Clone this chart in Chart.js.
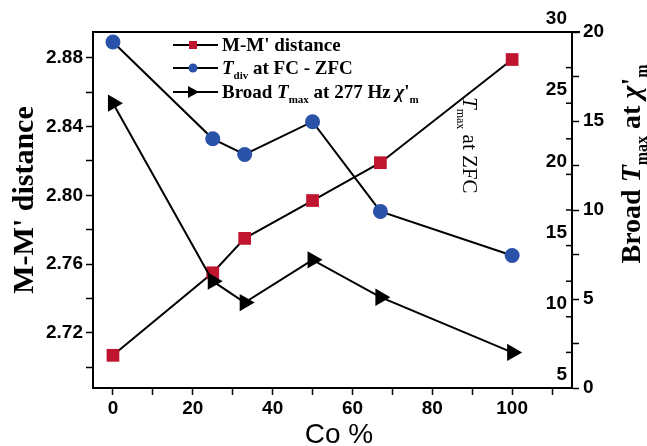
<!DOCTYPE html>
<html>
<head>
<meta charset="utf-8">
<script src="https://cdn.jsdelivr.net/npm/chart.js@4.4.1/dist/chart.umd.min.js"></script>
<style>
  body { margin: 0; background: #fff; }
</style>
</head>
<body>
<canvas id="coChart" width="647" height="446"></canvas>
<script>
// values
const coPercent = [0, 25, 33, 50, 67, 100];
const mmDistance = [2.707, 2.755, 2.775, 2.797, 2.819, 2.879];
const tDivZfc = [29.3, 22.5, 21.4, 23.7, 17.4, 14.3];
const broadTmax = [16.0, 6.0, 4.8, 7.2, 5.1, 2.0];

const xTicks = [0, 10, 20, 30, 40, 50, 60, 70, 80, 90, 100, 110];
const leftTicks = [2.70, 2.72, 2.74, 2.76, 2.78, 2.80, 2.82, 2.84, 2.86, 2.88];
const zfcTicks = [5, 7.5, 10, 12.5, 15, 17.5, 20, 22.5, 25, 27.5, 30];
const chiTicks = [0, 2.5, 5, 7.5, 10, 12.5, 15, 17.5, 20];

const RED = "#c0152f";
const BLUE = "#2a52a8";
const SANS = "'Liberation Sans', Arial, sans-serif";
const SERIF = "'Liberation Serif', 'Times New Roman', serif";

const tickFont = { family: SANS, size: 19, weight: "bold" };

function setTicks(list) {
    return (scale) => { scale.ticks = list.map(v => ({ value: v })); };
}

// draws a run of text pieces, each with its own font and vertical shift
function richWidth(ctx, segs) {
    let w = 0;
    segs.forEach(s => { ctx.font = s.font; w += ctx.measureText(s.text).width; });
    return w;
}
function drawRich(ctx, segs, x, y) {
    let cx = x;
    segs.forEach(s => {
        ctx.font = s.font;
        ctx.fillText(s.text, cx, y + (s.dy || 0));
        cx += ctx.measureText(s.text).width;
    });
}

const extras = {
    id: "extras",
    afterDraw(chart) {
        const ctx = chart.ctx;
        const area = chart.chartArea;
        const zfc = chart.scales.yZfc;
        ctx.save();
        ctx.fillStyle = "#000";
        ctx.strokeStyle = "#000";

        // top frame line
        ctx.lineWidth = 2;
        ctx.beginPath();
        ctx.moveTo(area.left - 1, area.top);
        ctx.lineTo(area.right + 8, area.top);
        ctx.stroke();

        // inner T_max at ZFC axis: ticks pointing inward, labels above the ticks
        ctx.lineWidth = 1.5;
        ctx.font = "bold 19px " + SANS;
        ctx.textAlign = "right";
        ctx.textBaseline = "middle";
        zfcTicks.forEach(v => {
            const y = zfc.getPixelForValue(v);
            ctx.beginPath();
            ctx.moveTo(area.right, y);
            ctx.lineTo(area.right - 6, y);
            ctx.stroke();
            if (v % 5 === 0) ctx.fillText(String(v), area.right - 5, y - 13);
        });

        ctx.textAlign = "left";
        ctx.textBaseline = "alphabetic";

        // left title
        const leftSegs = [{ text: "M-M' distance", font: "bold 30px " + SERIF }];
        ctx.save();
        ctx.translate(33, 200);
        ctx.rotate(-Math.PI / 2);
        drawRich(ctx, leftSegs, -richWidth(ctx, leftSegs) / 2, 0);
        ctx.restore();

        // right title
        const rightSegs = [
            { text: "Broad ", font: "bold 28px " + SERIF },
            { text: "T", font: "italic bold 28px " + SERIF },
            { text: "max", font: "bold 16px " + SERIF, dy: 7 },
            { text: " at ", font: "bold 28px " + SERIF },
            { text: "\u03c7", font: "italic bold 28px " + SERIF },
            { text: "'", font: "bold 28px " + SERIF },
            { text: "m", font: "bold 16px " + SERIF, dy: 7 }
        ];
        ctx.save();
        ctx.translate(640, 164);
        ctx.rotate(-Math.PI / 2);
        drawRich(ctx, rightSegs, -richWidth(ctx, rightSegs) / 2, 0);
        ctx.restore();

        // inner title for the ZFC axis
        const zfcSegs = [
            { text: "T", font: "italic 21px " + SERIF },
            { text: "max", font: "12px " + SERIF, dy: 6 },
            { text: " at ZFC", font: "21px " + SERIF }
        ];
        ctx.save();
        ctx.translate(463, 97);
        ctx.rotate(Math.PI / 2);
        drawRich(ctx, zfcSegs, 0, 0);
        ctx.restore();

        // x title
        ctx.textAlign = "center";
        ctx.font = "28px " + SANS;
        ctx.fillText("Co %", 339, 443);
        ctx.textAlign = "left";

        // legend
        const rows = [
            { y: 45, marker: "rect", segs: [
                { text: "M-M' distance", font: "bold 19px " + SERIF }] },
            { y: 68, marker: "circle", segs: [
                { text: "T", font: "italic bold 19px " + SERIF },
                { text: "div", font: "bold 11px " + SERIF, dy: 5 },
                { text: " at FC - ZFC", font: "bold 19px " + SERIF }] },
            { y: 92, marker: "tri", segs: [
                { text: "Broad ", font: "bold 19px " + SERIF },
                { text: "T", font: "italic bold 19px " + SERIF },
                { text: "max", font: "bold 11px " + SERIF, dy: 5 },
                { text: " at 277 Hz ", font: "bold 19px " + SERIF },
                { text: "\u03c7", font: "italic bold 19px " + SERIF },
                { text: "'", font: "bold 19px " + SERIF },
                { text: "m", font: "bold 11px " + SERIF, dy: 5 }] }
        ];
        rows.forEach(r => {
            ctx.lineWidth = 2;
            ctx.beginPath();
            ctx.moveTo(173, r.y);
            ctx.lineTo(218, r.y);
            ctx.stroke();
            if (r.marker === "rect") {
                ctx.fillStyle = RED;
                ctx.fillRect(189, r.y - 4, 8, 8);
            } else if (r.marker === "circle") {
                ctx.fillStyle = BLUE;
                ctx.beginPath();
                ctx.arc(193, r.y, 4.5, 0, Math.PI * 2);
                ctx.fill();
            } else {
                ctx.fillStyle = "#000";
                ctx.beginPath();
                ctx.moveTo(188, r.y - 6);
                ctx.lineTo(199, r.y);
                ctx.lineTo(188, r.y + 6);
                ctx.closePath();
                ctx.fill();
            }
            ctx.fillStyle = "#000";
            drawRich(ctx, r.segs, 222, r.y + 6);
        });

        ctx.restore();
    }
};

const ctx = document.getElementById("coChart").getContext("2d");

const chart = new Chart(ctx, {
    type: "line",
    data: {
        labels: coPercent,
        datasets: [
            {
                label: "Broad Tmax at 277 Hz",
                data: coPercent.map((x, i) => ({ x: x, y: broadTmax[i] })),
                yAxisID: "yChi",
                borderColor: "#000",
                borderWidth: 2,
                pointStyle: "triangle",
                pointRotation: 90,
                pointRadius: 10,
                pointBackgroundColor: "#000",
                pointBorderColor: "#000",
                pointBorderWidth: 0,
                order: 0
            },
            {
                label: "M-M' distance",
                data: coPercent.map((x, i) => ({ x: x, y: mmDistance[i] })),
                yAxisID: "y",
                borderColor: "#000",
                borderWidth: 2,
                pointStyle: "rect",
                pointRadius: 9,
                pointBackgroundColor: RED,
                pointBorderColor: RED,
                pointBorderWidth: 0,
                order: 1
            },
            {
                label: "Tdiv at FC - ZFC",
                data: coPercent.map((x, i) => ({ x: x, y: tDivZfc[i] })),
                yAxisID: "yZfc",
                borderColor: "#000",
                borderWidth: 2,
                pointStyle: "circle",
                pointRadius: 7.5,
                pointBackgroundColor: BLUE,
                pointBorderColor: BLUE,
                pointBorderWidth: 0,
                order: 2
            }
        ]
    },
    options: {
        responsive: false,
        animation: false,
        devicePixelRatio: 1,
        layout: { padding: { top: 32, left: 0, right: 0, bottom: 0 } },
        plugins: {
            legend: { display: false },
            tooltip: { enabled: false }
        },
        scales: {
            x: {
                type: "linear",
                min: -5,
                max: 115,
                afterBuildTicks: setTicks(xTicks),
                afterFit: (s) => { s.height = 58; },
                grid: { drawOnChartArea: false, tickLength: 7, tickWidth: 1.5, tickColor: "#000" },
                border: { color: "#000", width: 2 },
                ticks: {
                    autoSkip: false, maxRotation: 0, padding: 2,
                    color: "#000", font: tickFont,
                    callback: (v) => (v % 20 === 0 && v <= 100) ? String(v) : ""
                }
            },
            y: {
                type: "linear",
                position: "left",
                min: 2.688,
                max: 2.895,
                afterBuildTicks: setTicks(leftTicks),
                afterFit: (s) => { s.width = 93; },
                grid: { drawOnChartArea: false, tickLength: 7, tickWidth: 1.5, tickColor: "#000" },
                border: { color: "#000", width: 2 },
                ticks: {
                    autoSkip: false, padding: 3,
                    color: "#000", font: tickFont,
                    callback: (v) => Math.round(v * 100) % 4 === 0 ? v.toFixed(2) : ""
                }
            },
            yZfc: {
                type: "linear",
                position: "right",
                display: false,
                min: 5,
                max: 30
            },
            yChi: {
                type: "linear",
                position: "right",
                min: 0,
                max: 20,
                afterBuildTicks: setTicks(chiTicks),
                afterFit: (s) => { s.width = 75; },
                grid: { drawOnChartArea: false, tickLength: 7, tickWidth: 1.5, tickColor: "#000" },
                border: { color: "#000", width: 2 },
                ticks: {
                    autoSkip: false, padding: 4,
                    color: "#000", font: tickFont,
                    callback: (v) => v % 5 === 0 ? String(v) : ""
                }
            }
        }
    },
    plugins: [extras]
});
</script>
</body>
</html>
